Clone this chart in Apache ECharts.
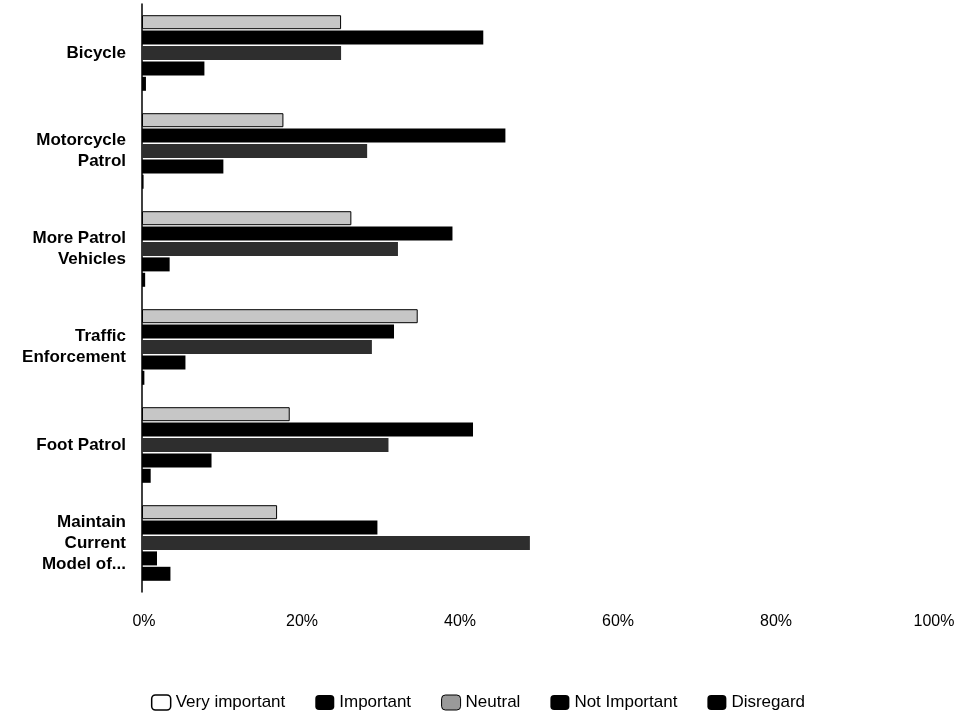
<!DOCTYPE html>
<html>
<head>
<meta charset="utf-8">
<script src="https://cdn.jsdelivr.net/npm/echarts@6/dist/echarts.min.js"></script>
<style>html,body{margin:0;padding:0;background:#fff;}#c{width:956px;height:719px;}</style>
</head>
<body>
<div id="c"></div>
<script>
const categories = ['Bicycle', 'Motorcycle\nPatrol', 'More Patrol\nVehicles', 'Traffic\nEnforcement', 'Foot Patrol', 'Maintain\nCurrent\nModel of...'];
const seriesNames = ['Very important', 'Important', 'Neutral', 'Not Important', 'Disregard'];
const veryImportant = [25.2, 17.9, 26.5, 34.9, 18.7, 17.1];
const important = [43.2, 46.0, 39.3, 31.9, 41.9, 29.8];
const neutral = [25.2, 28.5, 32.4, 29.1, 31.2, 49.1];
const notImportant = [7.9, 10.3, 3.5, 5.5, 8.8, 1.9];
const disregard = [0.5, 0.2, 0.4, 0.3, 1.1, 3.6];
const tickValues = [0, 20, 40, 60, 80, 100];

const values = [veryImportant, important, neutral, notImportant, disregard];
const fills = ['#c6c6c6', '#000000', '#2e2e2e', '#000000', '#000000'];

const chart = echarts.init(document.getElementById('c'));
chart.setOption({
  animation: false,
  backgroundColor: '#fff',
  grid: { left: 142, right: 24, top: 4, bottom: 127, containLabel: false, outerBoundsMode: 'none' },
  xAxis: {
    type: 'value', min: tickValues[0], max: tickValues[tickValues.length - 1], interval: 20,
    axisLine: { show: false }, axisTick: { show: false }, splitLine: { show: false },
    axisLabel: { formatter: v => v + '%', fontSize: 16, color: '#000', margin: 22, padding: [0, 0, 0, 4], fontFamily: 'Liberation Sans, Arial, sans-serif' }
  },
  yAxis: {
    type: 'category', data: categories, inverse: true,
    axisLine: { show: true, lineStyle: { color: '#000', width: 1.5 } },
    axisTick: { show: false },
    axisLabel: { fontSize: 17, fontWeight: 'bold', color: '#000', margin: 16, lineHeight: 21, padding: [4, 0, 0, 0], align: 'right', fontFamily: 'Liberation Sans, Arial, sans-serif' }
  },
  legend: {
    bottom: 3, left: 'center', itemWidth: 19, itemHeight: 15, itemGap: 30,
    textStyle: { fontSize: 17, color: '#000', fontFamily: 'Liberation Sans, Arial, sans-serif' },
    data: seriesNames.map((n, i) => ({
      name: n, icon: 'roundRect',
      itemStyle: i === 0 ? { color: '#fff', borderColor: '#000', borderWidth: 1.5 } : (i === 2 ? { color: '#9a9a9a', borderColor: '#000', borderWidth: 1 } : { color: '#000' })
    }))
  },
  series: seriesNames.map((n, i) => ({
    name: n, type: 'bar', data: values[i], barWidth: 14, barGap: '10%',
    itemStyle: { color: fills[i], borderColor: '#000', borderWidth: i === 0 ? 1 : 0 }
  }))
});
</script>
</body>
</html>
